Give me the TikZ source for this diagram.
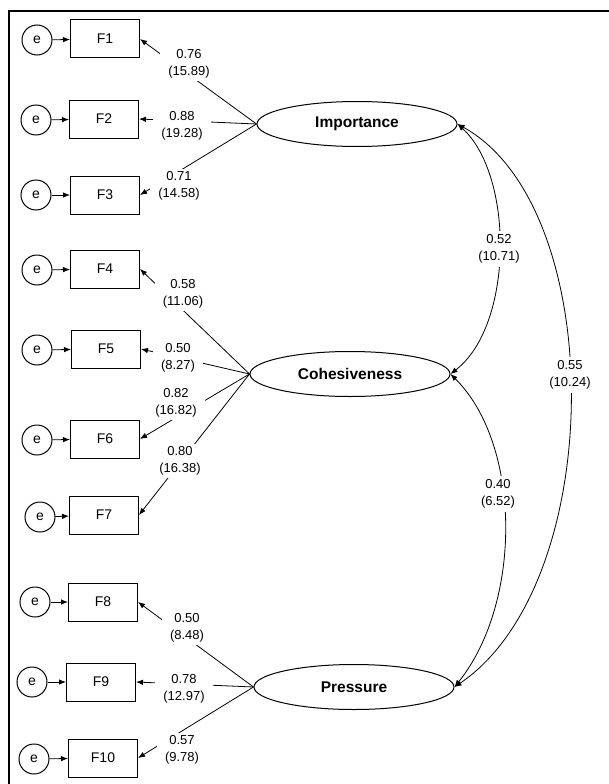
\documentclass[tikz,border=0pt]{standalone}
\usepackage{fontspec}
\setmainfont{Liberation Sans}
\usetikzlibrary{shapes.geometric,arrows.meta}
\tikzset{
  errc/.style={draw,circle,minimum size=30pt,inner sep=0pt,line width=1pt,font=\fontsize{14}{16}\selectfont},
  obs/.style={draw,rectangle,minimum width=69pt,minimum height=38pt,inner sep=0pt,line width=1pt,font=\fontsize{14}{16}\selectfont},
  lat/.style={draw,ellipse,minimum width=200pt,minimum height=45pt,inner sep=0pt,line width=1pt,font=\bfseries\fontsize{15.5}{18}\selectfont},
  lbl/.style={fill=white,inner xsep=8pt,inner ysep=3pt,align=center,font=\fontsize{13}{16.5}\selectfont},
  clbl/.style={fill=white,inner xsep=2pt,inner ysep=4pt,align=center,font=\fontsize{13}{16.5}\selectfont},
  arr/.style={-{Latex[length=7pt,width=5.5pt]},line width=0.8pt},
  dbl/.style={{Latex[length=7pt,width=5.5pt]}-{Latex[length=7pt,width=5.5pt]},line width=0.8pt}
}
\begin{document}
\begin{tikzpicture}[x=1pt,y=-1pt]
\useasboundingbox (0,0) rectangle (608,784);
\draw[line width=2.8pt] (9,790) -- (9,11) -- (612,11);
% latent variables
\node[lat] (Imp) at (357,124) {Importance};
\node[lat] (Coh) at (350,374) {Cohesiveness};
\node[lat] (Pre) at (354,687) {Pressure};
% observed indicators
\node[obs] (F1) at (105,39) {F1};
\node[obs] (F2) at (104,119) {F2};
\node[obs] (F3) at (105,195) {F3};
\node[obs] (F4) at (105,269) {F4};
\node[obs] (F5) at (106,349) {F5};
\node[obs] (F6) at (105,439) {F6};
\node[obs] (F7) at (104,515) {F7};
\node[obs] (F8) at (103,602) {F8};
\node[obs] (F9) at (101,682) {F9};
\node[obs] (F10) at (103,758) {F10};
% error terms
\node[errc] (e1) at (37,40) {e};
\node[errc] (e2) at (36,120) {e};
\node[errc] (e3) at (36,195) {e};
\node[errc] (e4) at (37,270) {e};
\node[errc] (e5) at (37,350) {e};
\node[errc] (e6) at (37,440) {e};
\node[errc] (e7) at (40,517) {e};
\node[errc] (e8) at (35,602) {e};
\node[errc] (e9) at (32,682) {e};
\node[errc] (e10) at (34,759) {e};
\foreach \i in {1,...,10} \draw[arr] (e\i) -- (F\i);
% loadings
\foreach \i in {1,2,3} \draw[arr] (Imp.west) -- (F\i.east);
\foreach \i in {4,5,6,7} \draw[arr] (Coh.west) -- (F\i.east);
\foreach \i in {8,9,10} \draw[arr] (Pre.west) -- (F\i.east);
\node[lbl] (l1) at (189,64) {0.76\\(15.89)};
\node[lbl] (l2) at (182,126) {0.88\\(19.28)};
\node[lbl] (l3) at (179,186) {0.71\\(14.58)};
\node[lbl] (l4) at (183,294) {0.58\\(11.06)};
\node[lbl] (l5) at (178,358) {0.50\\(8.27)};
\node[lbl] (l6) at (176,403) {0.82\\(16.82)};
\node[lbl] (l7) at (180,461) {0.80\\(16.38)};
\node[lbl] (l8) at (187,628) {0.50\\(8.48)};
\node[lbl] (l9) at (184,689) {0.78\\(12.97)};
\node[lbl] (l10) at (182,750) {0.57\\(9.78)};
% covariances
\draw[dbl] (Imp.east) .. controls (514,175) and (514,325) .. (Coh.east);
\draw[dbl] (Imp.east) .. controls (608,207) and (608,583) .. (Pre.east);
\draw[dbl] (Coh.east) .. controls (522,445) and (522,603) .. (Pre.east);
\node[clbl] (c1) at (499,249) {0.52\\(10.71)};
\node[clbl] (c2) at (570,375) {0.55\\(10.24)};
\node[clbl] (c3) at (498,494) {0.40\\(6.52)};
\end{tikzpicture}
\end{document}
